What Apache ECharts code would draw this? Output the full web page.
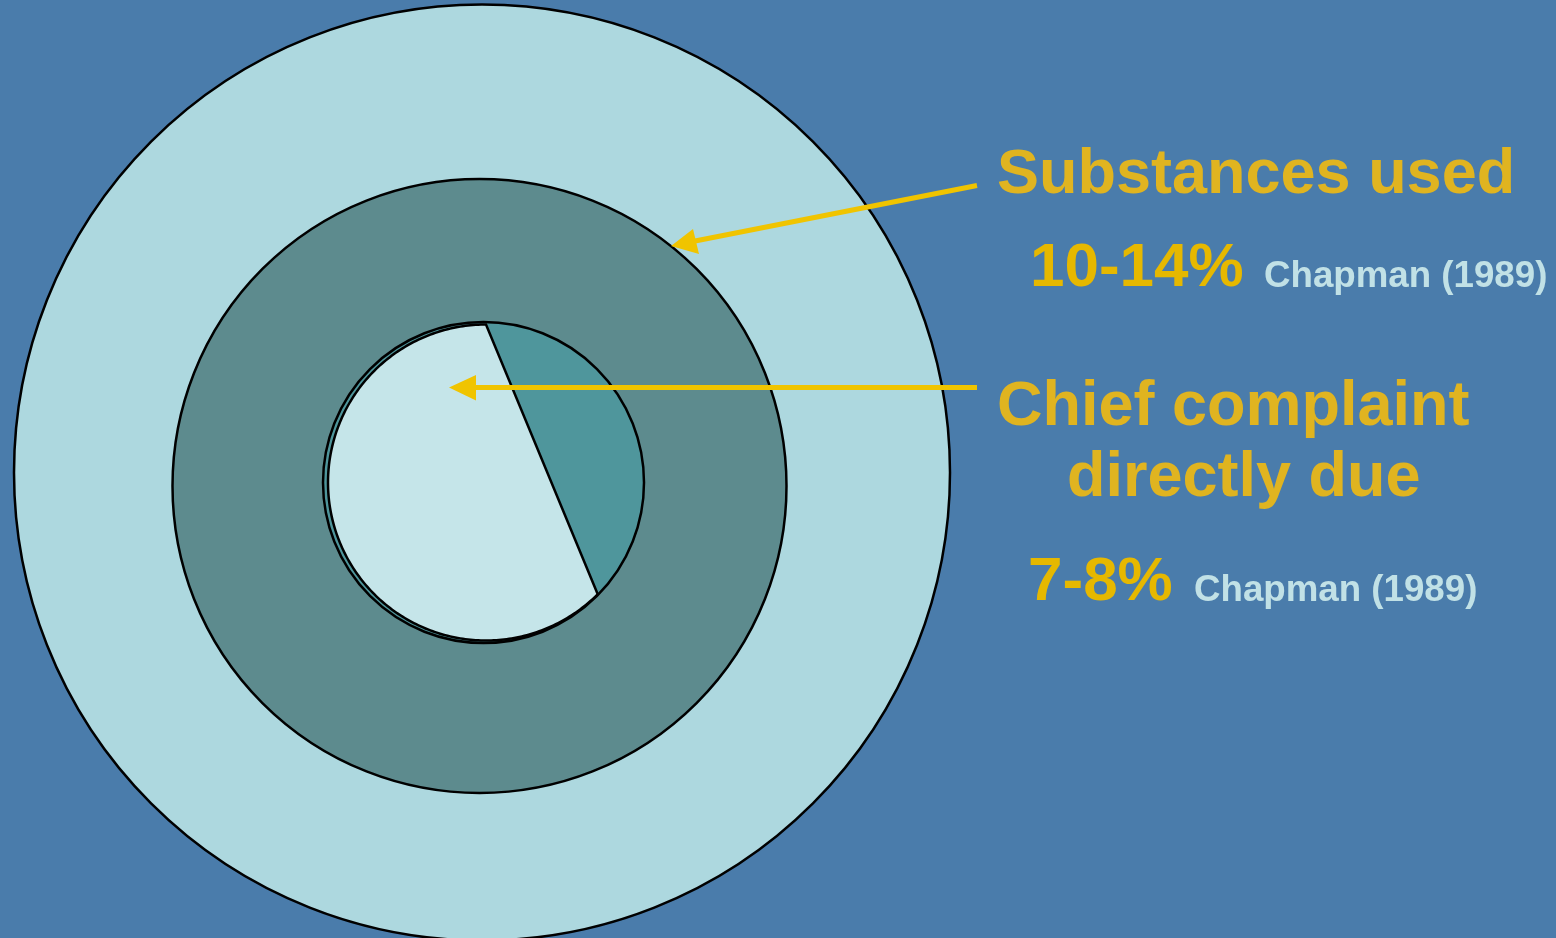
<!DOCTYPE html>
<html>
<head>
<meta charset="utf-8">
<script src="https://cdn.jsdelivr.net/npm/echarts@6/dist/echarts.min.js"></script>
<style>
html,body{margin:0;padding:0;background:#4a7cab;}
#chart{width:1556px;height:938px;}
</style>
</head>
<body>
<div id="chart"></div>
<script>
// Data
const outerNames = ['All patients'];
const outerValues = [100];
const middleNames = ['Substances used'];
const middleValues = [100];
const innerNames = ['Chief complaint directly due'];
const innerValues = [100];
// chord that splits the inner circle: clockwise angles (deg) from 12 o'clock
const innerChordAngles = [0, 135];
const headingLabels = ['Substances used', 'Chief complaint', 'directly due'];
const rateLabels = ['10-14%', '7-8%'];
const sourceLabels = ['Chapman (1989)', 'Chapman (1989)'];

const FONT = '"Liberation Sans", Arial, Helvetica, sans-serif';
const YEL = '#e0b420';
const YEL2 = '#e6b800';
const ARROW = '#f0c400';
const SRC = '#c1e1e6';
const BORDER_W = 2.5;

function ringSeries(name, names, values, colors, center, radius, z) {
  return {
    type: 'pie',
    name: name,
    center: center,
    radius: [0, radius],
    startAngle: 90,
    clockwise: true,
    silent: true,
    animation: false,
    z: z,
    label: {show: false},
    labelLine: {show: false},
    emphasis: {disabled: true},
    itemStyle: {borderColor: '#000', borderWidth: BORDER_W},
    data: values.map((v, i) => ({name: names[i], value: v, itemStyle: {color: colors[i]}}))
  };
}

function txt(text, x, y, size, color) {
  return {
    type: 'text', left: x, top: y - size * 0.5, silent: true, z: 100,
    style: {text: text, x: 0, y: 0, fill: color, font: 'bold ' + size + 'px ' + FONT,
            verticalAlign: 'top', align: 'left'}
  };
}

const LIGHT_CENTER = [486, 482.5];
const LIGHT_R = 158;

const chart = echarts.init(document.getElementById('chart'));
chart.setOption({
  backgroundColor: '#4a7cab',
  animation: false,
  series: [
    ringSeries('outer', outerNames, outerValues, ['#add8df'], [482, 472.5], 468, 1),
    ringSeries('middle', middleNames, middleValues, ['#5d8b8e'], [479.5, 486], 307, 2),
    ringSeries('inner', innerNames, innerValues, ['#4f969c'], [483.5, 482.5], 160.5, 3),
    {
      type: 'custom',
      name: 'Other',
      coordinateSystem: 'none',
      silent: true,
      animation: false,
      z: 4,
      data: [innerChordAngles],
      renderItem: function (params, api) {
        const a0 = api.value(0), a1 = api.value(1);
        const pts = [];
        const steps = 240;
        // light region: arc from a1 clockwise round to a0+360, closed by the chord
        for (let i = 0; i <= steps; i++) {
          const deg = a1 + (a0 + 360 - a1) * i / steps;
          const rad = deg * Math.PI / 180;
          pts.push([LIGHT_CENTER[0] + LIGHT_R * Math.sin(rad), LIGHT_CENTER[1] - LIGHT_R * Math.cos(rad)]);
        }
        return {
          type: 'polygon',
          shape: {points: pts},
          style: {fill: '#c5e5e9', stroke: '#000', lineWidth: BORDER_W}
        };
      }
    }
  ],
  graphic: [
    // arrow 1
    {type: 'line', silent: true, z: 50, shape: {x1: 977, y1: 185.5, x2: 690, y2: 242}, style: {stroke: ARROW, lineWidth: 5}},
    {type: 'polygon', silent: true, z: 50, shape: {points: [[671, 246], [693, 229], [699, 254]]}, style: {fill: ARROW}},
    // arrow 2
    {type: 'line', silent: true, z: 50, shape: {x1: 977, y1: 387.5, x2: 470, y2: 387.5}, style: {stroke: ARROW, lineWidth: 5}},
    {type: 'polygon', silent: true, z: 50, shape: {points: [[449, 387.5], [476, 375], [476, 400.5]]}, style: {fill: ARROW}},
    txt(headingLabels[0], 997, 176, 63, YEL),
    txt(rateLabels[0], 1030, 269, 62, YEL2),
    txt(sourceLabels[0], 1264, 277, 36.7, SRC),
    txt(headingLabels[1], 997, 408, 63, YEL),
    txt(headingLabels[2], 1067, 479, 63, YEL),
    txt(rateLabels[1], 1028, 583, 62, YEL2),
    txt(sourceLabels[1], 1194, 591, 36.7, SRC)
  ]
});
</script>
</body>
</html>
